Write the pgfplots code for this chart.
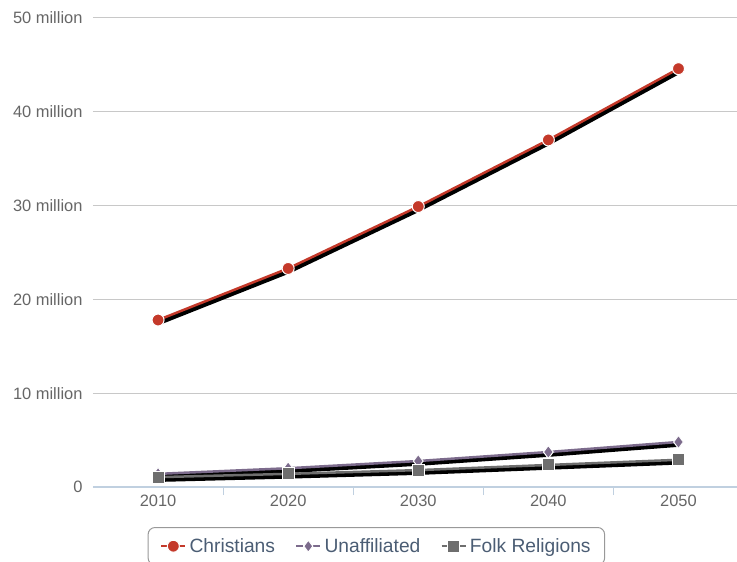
\documentclass[border=0pt]{standalone}
\usepackage{fontspec}
\setmainfont{Liberation Sans}
\usepackage{pgfplots}
\pgfplotsset{compat=1.18}

\definecolor{chr}{HTML}{C4392A}
\definecolor{unaf}{HTML}{7C6B8C}
\definecolor{folk}{HTML}{6E6E6E}
\definecolor{gridc}{HTML}{C8C8C8}
\definecolor{axisc}{HTML}{C0D0E0}
\definecolor{tickc}{HTML}{666666}
\definecolor{legc}{HTML}{4B5D74}

\pgfplotstableread{
year chr unaf folk
2010 17.8 1.40 1.05
2020 23.3 2.00 1.40
2030 29.9 2.77 1.80
2040 37.0 3.73 2.35
2050 44.6 4.80 2.90
}\datatab

\begin{document}
\begin{tikzpicture}[x=1bp,y=1bp]
\begin{axis}[
    anchor=origin, at={(0,0)},
    scale only axis,
    width=644bp, height=469bp,
    xmin=2005, xmax=2054.5,
    ymin=0, ymax=50,
    axis line style={draw=none},
    xtick={2010,2020,2030,2040,2050},
    xticklabels={2010,2020,2030,2040,2050},
    minor xtick={2015,2025,2035,2045},
    ytick={0,10,20,30,40,50},
    yticklabels={0,10 million,20 million,30 million,40 million,50 million},
    tick pos=left,
    tick align=outside,
    major tick length=0pt,
    minor tick length=8bp,
    minor tick style={axisc, line width=1.2bp},
    ymajorgrids,
    grid style={gridc, line width=1bp},
    ticklabel style={font=\fontsize{16.5}{19}\selectfont, text=tickc},
    yticklabel style={xshift=-7bp},
    xticklabel style={yshift=-5bp},
    legend style={
        at={(0.440,-0.0853)}, anchor=north,
        draw=black!40, rounded corners=7bp, line width=1bp,
        font=\fontsize{19.3}{22}\selectfont, text=legc,
        inner xsep=12bp, inner ysep=9bp,
        /tikz/every odd column/.append style={column sep=1bp},
        /tikz/every even column/.append style={column sep=18bp},
    },
    legend columns=3,
    legend image code/.code={
        \draw[#1, mark=none, line width=2.5bp] (0bp,0bp) -- (7bp,0bp);
        \draw[#1, mark=none, line width=2.5bp] (17bp,0bp) -- (24bp,0bp);
        \draw[#1, only marks, mark size=6bp] plot coordinates {(12bp,0bp)};
    },
]
\draw[axisc, line width=1.3bp] (rel axis cs:0,0) -- (rel axis cs:1,0);

% shadows
\addplot[black, line width=4.5bp, no marks, xshift=1.5bp, yshift=-2.5bp, forget plot] table[x=year, y=chr] {\datatab};
\addplot[black, line width=4.5bp, no marks, xshift=1.5bp, yshift=-2.5bp, forget plot] table[x=year, y=unaf] {\datatab};
\addplot[black, line width=4.5bp, no marks, xshift=1.5bp, yshift=-2.5bp, forget plot] table[x=year, y=folk] {\datatab};

\addplot[chr, line width=2.5bp, mark=*, mark size=6bp,
    mark options={fill=chr, draw=white, line width=1bp}] table[x=year, y=chr] {\datatab};
\addlegendentry{Christians}
\addplot[unaf, line width=2.5bp, mark=diamond*, mark size=6.5bp,
    mark options={fill=unaf, draw=white, line width=1bp}] table[x=year, y=unaf] {\datatab};
\addlegendentry{Unaffiliated}
\addplot[folk, line width=2.5bp, mark=square*, mark size=6bp,
    mark options={fill=folk, draw=white, line width=1bp}] table[x=year, y=folk] {\datatab};
\addlegendentry{Folk Religions}
\end{axis}
\pgfresetboundingbox
\path (-93bp,-75bp) rectangle (644bp,487bp);
\end{tikzpicture}
\end{document}
